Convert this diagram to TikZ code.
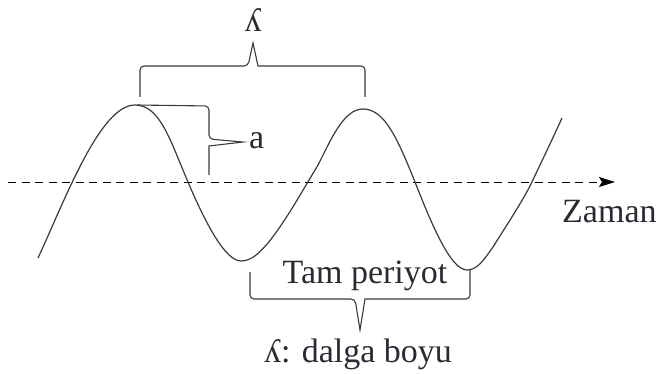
\documentclass[tikz,border=0pt]{standalone}
\usepackage{fontspec}
\setmainfont{Liberation Serif}
\usetikzlibrary{arrows.meta}
\definecolor{ink}{HTML}{3A3A3A}
\definecolor{txt}{HTML}{2A2A33}
\begin{document}
\begin{tikzpicture}[x=1pt,y=-1pt,
  wave/.style={draw=ink,line width=1.2pt,line join=round},
  bracket/.style={draw=ink,line width=1.1pt,rounded corners=4pt},
  axis/.style={draw=black,line width=1pt,dash pattern=on 8pt off 5.5pt,-{Stealth[length=16pt,width=10pt,inset=3pt]}},
  lbl/.style={inner sep=0pt,text=txt,font=\fontsize{34}{36}\selectfont}]
\useasboundingbox (0,0) rectangle (660,374);
% axis
\coordinate (axL) at (8,182);
\coordinate (axR) at (615,182);
\draw[axis] (axL) -- (axR);
% wave
\draw[wave] (38,258) .. controls (65,200) and (100,105) .. (135,105)
  .. controls (160,105) and (170,140) .. (188,182)
  .. controls (205,222) and (225,261) .. (241,261)
  .. controls (252,261) and (260,252) .. (268,243)
  .. controls (285,222) and (300,195) .. (318,165)
  .. controls (330,142) and (343,109) .. (363,109)
  .. controls (385,109) and (398,140) .. (415,182)
  .. controls (430,220) and (450,270) .. (467,270)
  .. controls (478,270) and (485,258) .. (493,247)
  .. controls (508,223) and (520,205) .. (530,186)
  .. controls (540,165) and (552,140) .. (562,118);
% top bracket (wavelength)
\coordinate (tL) at (140,97);
\coordinate (tR) at (365,97);
\draw[bracket] (tL) -- (140,66) -- (248,66) [sharp corners] -- (253,43) -- (258,66) [rounded corners=4pt] -- (365,66) -- (tR);
\node[lbl,anchor=base] (lamtop) at (253,32) {ʎ};
% amplitude bracket
\coordinate (aS) at (137,105);
\draw[bracket] (aS) -- (209,106) -- (209,139) [sharp corners] -- (243,142) -- (209,146) -- (209,175);
\node[lbl,anchor=base west] (alab) at (249,149) {a};
% Zaman
\node[lbl,anchor=base west] (zaman) at (562,222) {Zaman};
% bottom bracket (period)
\draw[bracket] (250,272) -- (250,299) -- (355,299) [sharp corners] -- (360,330) -- (365,299) [rounded corners=4pt] -- (470,299) -- (470,270);
\node[lbl,anchor=base] (tam) at (365,283) {Tam periyot};
\node[lbl,anchor=base] (dalga) at (358,362) {ʎ: dalga boyu};
\end{tikzpicture}
\end{document}
